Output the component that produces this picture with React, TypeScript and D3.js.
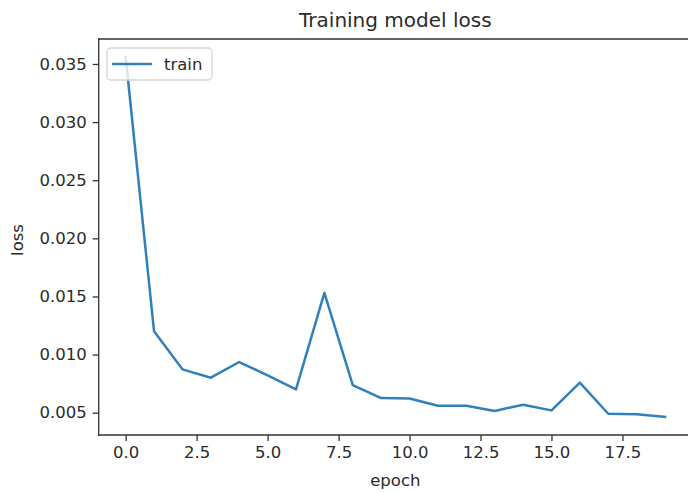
import React, { useEffect, useRef } from "react";
import * as d3 from "d3";

// Training loss per epoch
const epochs = [0, 1, 2, 3, 4, 5, 6, 7, 8, 9, 10, 11, 12, 13, 14, 15, 16, 17, 18, 19];
const trainLoss = [
  0.0356, 0.012, 0.00873, 0.00801, 0.00936, 0.00821, 0.00701, 0.01531, 0.00738, 0.00626,
  0.00622, 0.0056, 0.0056, 0.00515, 0.00569, 0.0052, 0.00758, 0.00491, 0.00486, 0.00463,
];
const xTicks = [0, 2.5, 5, 7.5, 10, 12.5, 15, 17.5];
const yTicks = [0.005, 0.01, 0.015, 0.02, 0.025, 0.03, 0.035];

const W = 688;
const H = 493;
// the right spine sits just past the edge of the picture
const margin = { top: 39, right: -4, bottom: 58, left: 98.7 };
const FONT = "'DejaVu Sans', sans-serif";
const TEXT = "#2b2b2b";
const LINE = "#3081bb";

export default function App() {
  const ref = useRef<SVGSVGElement | null>(null);

  useEffect(() => {
    document.body.style.margin = "0";
    const svg = d3.select(ref.current);
    svg.selectAll("*").remove();

    const width = W - margin.left - margin.right;
    const height = H - margin.top - margin.bottom;

    // matplotlib-style 5% padding on both axes
    const [x0, x1] = d3.extent(epochs) as [number, number];
    const xPad = (x1 - x0) * 0.05;
    const [y0, y1] = d3.extent(trainLoss) as [number, number];
    const yPad = (y1 - y0) * 0.05;

    const x = d3.scaleLinear().domain([x0 - xPad, x1 + xPad]).range([0, width]);
    const y = d3.scaleLinear().domain([y0 - yPad, y1 + yPad]).range([height, 0]);

    const g = svg.append("g").attr("transform", `translate(${margin.left},${margin.top})`);

    // the loss line
    const line = d3
      .line<number>()
      .x((_, i) => x(epochs[i]))
      .y((d) => y(d));

    g.append("path")
      .datum(trainLoss)
      .attr("fill", "none")
      .attr("stroke", LINE)
      .attr("stroke-width", 2.5)
      .attr("stroke-linejoin", "round")
      .attr("stroke-linecap", "square")
      .attr("d", line);

    // axes
    const xAxis = g
      .append("g")
      .attr("transform", `translate(0,${height})`)
      .call(
        d3
          .axisBottom(x)
          .tickValues(xTicks)
          .tickSize(6)
          .tickPadding(5)
          .tickFormat((d) => d3.format(".1f")(d as number))
      );

    const yAxis = g.append("g").call(
      d3
        .axisLeft(y)
        .tickValues(yTicks)
        .tickSize(6)
        .tickPadding(6)
        .tickFormat((d) => d3.format(".3f")(d as number))
    );

    for (const ax of [xAxis, yAxis]) {
      ax.select(".domain").remove();
      ax.selectAll(".tick line").attr("stroke", "#333").attr("stroke-width", 1.3);
      ax.selectAll(".tick text")
        .attr("fill", TEXT)
        .style("font-family", FONT)
        .style("font-size", "16.5px");
    }

    // spines: left, top, bottom (right one falls outside the picture)
    const spines: [number, number, number, number][] = [
      [0, 0, 0, height],
      [0, 0, width, 0],
      [0, height, width, height],
    ];
    g.selectAll(".spine")
      .data(spines)
      .enter()
      .append("line")
      .attr("class", "spine")
      .attr("x1", (d) => d[0])
      .attr("y1", (d) => d[1])
      .attr("x2", (d) => d[2])
      .attr("y2", (d) => d[3])
      .attr("stroke", "#333")
      .attr("stroke-width", 1.3)
      .attr("stroke-linecap", "square");

    // title and axis labels
    svg
      .append("text")
      .attr("x", margin.left + width / 2)
      .attr("y", 27)
      .attr("text-anchor", "middle")
      .attr("fill", TEXT)
      .style("font-family", FONT)
      .style("font-size", "20px")
      .text("Training model loss");

    svg
      .append("text")
      .attr("x", margin.left + width / 2)
      .attr("y", 486)
      .attr("text-anchor", "middle")
      .attr("fill", TEXT)
      .style("font-family", FONT)
      .style("font-size", "16.5px")
      .text("epoch");

    svg
      .append("text")
      .attr("transform", `translate(23,${margin.top + height / 2 + 3}) rotate(-90)`)
      .attr("text-anchor", "middle")
      .attr("fill", TEXT)
      .style("font-family", FONT)
      .style("font-size", "16.5px")
      .text("loss");

    // legend, upper left
    const legend = g.append("g").attr("transform", "translate(8.3,9)");
    legend
      .append("rect")
      .attr("width", 105)
      .attr("height", 32)
      .attr("rx", 4)
      .attr("fill", "white")
      .attr("fill-opacity", 0.8)
      .attr("stroke", "#d6d6d6")
      .attr("stroke-width", 1.3);
    legend
      .append("line")
      .attr("x1", 5)
      .attr("x2", 45)
      .attr("y1", 16)
      .attr("y2", 16)
      .attr("stroke", LINE)
      .attr("stroke-width", 2.5);
    legend
      .append("text")
      .attr("x", 57)
      .attr("y", 22)
      .attr("fill", TEXT)
      .style("font-family", FONT)
      .style("font-size", "16.5px")
      .text("train");
  }, []);

  return (
    <div style={{ position: "fixed", left: 0, top: 0 }}>
      <svg ref={ref} width={W} height={H} style={{ display: "block", background: "white" }} />
    </div>
  );
}
